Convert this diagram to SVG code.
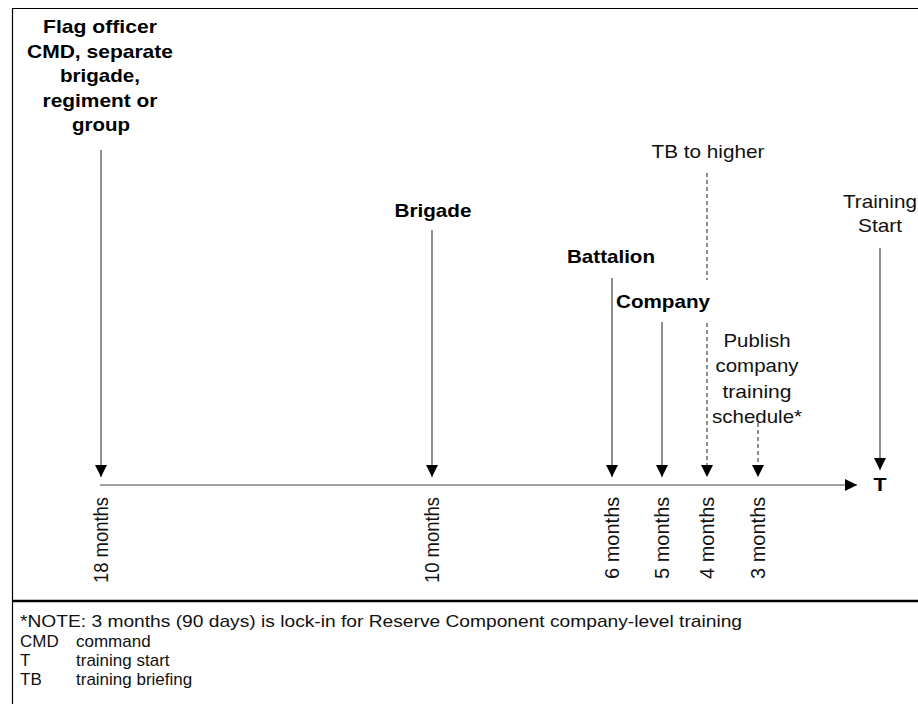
<svg xmlns="http://www.w3.org/2000/svg" width="918" height="704" viewBox="0 0 918 704">
<defs>
<style>
.b{font-family:"Liberation Sans",Arial,sans-serif;font-weight:bold;font-size:19px;fill:#000;text-anchor:middle}
.r{font-family:"Liberation Sans",Arial,sans-serif;font-size:19px;fill:#111;text-anchor:middle}
.m{font-family:"Liberation Sans",Arial,sans-serif;font-size:20px;fill:#111}
.l{font-family:"Liberation Sans",Arial,sans-serif;font-size:17px;fill:#111}
.ln{stroke:#444;stroke-width:1.2;fill:none}
.ds{stroke:#444;stroke-width:1.2;fill:none;stroke-dasharray:4 3}
</style>
<marker id="ah" viewBox="0 0 12 12" refX="12" refY="6" markerWidth="12" markerHeight="12" markerUnits="userSpaceOnUse" orient="auto">
<path d="M0,0 L12,6 L0,12 Z" fill="#000"/>
</marker>
</defs>
<rect width="918" height="704" fill="#fff"/>
<g id="frame">
<line x1="12.5" y1="8" x2="12.5" y2="704" stroke="#000" stroke-width="1.2"/>
<line x1="12" y1="8.5" x2="918" y2="8.5" stroke="#000" stroke-width="1.2"/>
<line x1="12" y1="601" x2="918" y2="601" stroke="#000" stroke-width="2.5"/>
</g>
<g id="connectors">
<line class="ln" x1="100" y1="485" x2="857" y2="485" marker-end="url(#ah)"/>
<line class="ln" x1="101" y1="150" x2="101" y2="477" marker-end="url(#ah)"/>
<line class="ln" x1="432" y1="230" x2="432" y2="477" marker-end="url(#ah)"/>
<line class="ln" x1="612" y1="278" x2="612" y2="477" marker-end="url(#ah)"/>
<line class="ln" x1="662" y1="322" x2="662" y2="477" marker-end="url(#ah)"/>
<line class="ds" x1="707" y1="173" x2="707" y2="280"/>
<line class="ds" x1="707" y1="323" x2="707" y2="477" marker-end="url(#ah)"/>
<line class="ds" x1="758" y1="423" x2="758" y2="477" marker-end="url(#ah)"/>
<line class="ln" x1="880" y1="248" x2="880" y2="470" marker-end="url(#ah)"/>
</g>
<g id="flag-officer">
<text class="b" x="100" y="33" textLength="114" lengthAdjust="spacingAndGlyphs">Flag officer</text>
<text class="b" x="100" y="57.5" textLength="146" lengthAdjust="spacingAndGlyphs">CMD, separate</text>
<text class="b" x="100" y="82" textLength="80" lengthAdjust="spacingAndGlyphs">brigade,</text>
<text class="b" x="100" y="106.5" textLength="115" lengthAdjust="spacingAndGlyphs">regiment or</text>
<text class="b" x="101" y="131" textLength="58" lengthAdjust="spacingAndGlyphs">group</text>
</g>
<g id="brigade"><text class="b" x="433" y="217" textLength="77" lengthAdjust="spacingAndGlyphs">Brigade</text></g>
<g id="battalion"><text class="b" x="611" y="263" textLength="88" lengthAdjust="spacingAndGlyphs">Battalion</text></g>
<g id="company"><text class="b" x="663" y="308" textLength="94" lengthAdjust="spacingAndGlyphs">Company</text></g>
<g id="tb-to-higher"><text class="r" x="708" y="158" textLength="113" lengthAdjust="spacingAndGlyphs">TB to higher</text></g>
<g id="training-start">
<text class="r" x="880" y="208" textLength="74" lengthAdjust="spacingAndGlyphs">Training</text>
<text class="r" x="880" y="232" textLength="44" lengthAdjust="spacingAndGlyphs">Start</text>
<text class="b" x="880" y="491" style="font-size:19px" textLength="13" lengthAdjust="spacingAndGlyphs">T</text>
</g>
<g id="publish">
<text class="r" x="757" y="347" textLength="67" lengthAdjust="spacingAndGlyphs">Publish</text>
<text class="r" x="757" y="372" textLength="83" lengthAdjust="spacingAndGlyphs">company</text>
<text class="r" x="757" y="398" textLength="69" lengthAdjust="spacingAndGlyphs">training</text>
<text class="r" x="757" y="423" textLength="90" lengthAdjust="spacingAndGlyphs">schedule*</text>
</g>
<g id="months">
<text class="m" transform="translate(108,583) rotate(-90)" textLength="86" lengthAdjust="spacingAndGlyphs">18 months</text>
<text class="m" transform="translate(439,583) rotate(-90)" textLength="86" lengthAdjust="spacingAndGlyphs">10 months</text>
<text class="m" transform="translate(619,579) rotate(-90)">6 months</text>
<text class="m" transform="translate(669,579) rotate(-90)">5 months</text>
<text class="m" transform="translate(714,579) rotate(-90)">4 months</text>
<text class="m" transform="translate(765,579) rotate(-90)">3 months</text>
</g>
<g id="legend">
<text class="l" x="20" y="627" textLength="722" lengthAdjust="spacingAndGlyphs">*NOTE: 3 months (90 days) is lock-in for Reserve Component company-level training</text>
<text class="l" x="20" y="647">CMD</text><text class="l" x="76" y="647">command</text>
<text class="l" x="20" y="666">T</text><text class="l" x="76" y="666">training start</text>
<text class="l" x="20" y="685">TB</text><text class="l" x="76" y="685">training briefing</text>
</g>
</svg>
